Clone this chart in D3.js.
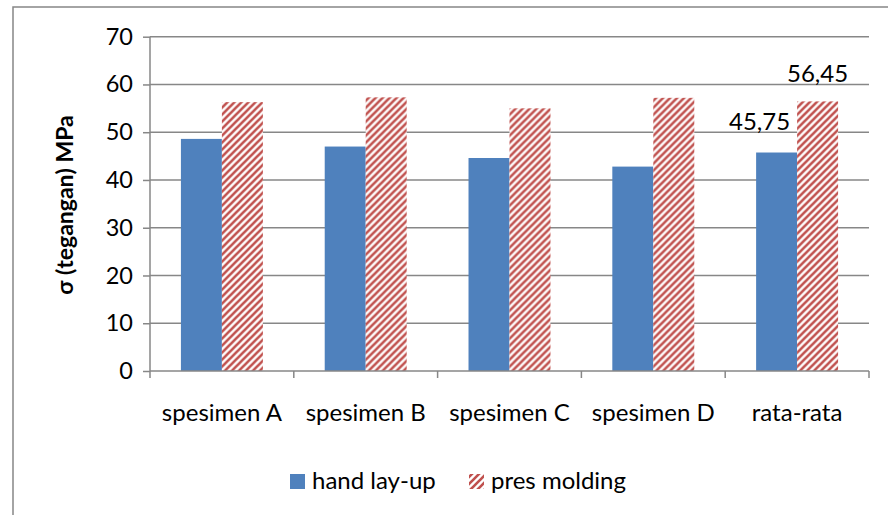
<!DOCTYPE html>
<html>
<head>
<meta charset="utf-8">
<script src="https://cdn.jsdelivr.net/npm/d3@7"></script>
<style>
  body { margin: 0; background: #fff; }
  svg { display: block; font-family: Lato, "Open Sans", sans-serif; }
</style>
</head>
<body>
<div id="chart"></div>
<script>
// data ---------------------------------------------------------------
const categories = ['spesimen A', 'spesimen B', 'spesimen C', 'spesimen D', 'rata-rata'];
const seriesNames = ['hand lay-up', 'pres molding'];
const handLayUp = [48.6, 47.0, 44.6, 42.8, 45.75];
const presMolding = [56.3, 57.3, 55.0, 57.2, 56.45];
const yTicks = [0, 10, 20, 30, 40, 50, 60, 70];
const avgLabels = ['45,75', '56,45'];

// size -----------------------------------------------------------------
const width = 888, height = 515;
const margin = { top: 36.7, right: 19, bottom: 144, left: 150 };
const innerW = width - margin.left - margin.right;
const innerH = height - margin.top - margin.bottom;
const grey = '#878787';
const fs = '24px';

const svg = d3.select('#chart').append('svg')
  .attr('width', width)
  .attr('height', height);

// hatch pattern -------------------------------------------------------------
const defs = svg.append('defs');
const pat = defs.append('pattern')
  .attr('id', 'hatch')
  .attr('patternUnits', 'userSpaceOnUse')
  .attr('width', 7).attr('height', 7);
pat.append('rect').attr('width', 7).attr('height', 7).attr('fill', '#fff');
pat.append('path')
  .attr('d', 'M-1,8 L8,-1 M-2,2 L2,-2 M5,9 L9,5')
  .attr('stroke', '#c0504d')
  .attr('stroke-width', 2.6);

// frame -------------------------------------------------------------------
svg.append('rect')
  .attr('x', 13).attr('y', 7)
  .attr('width', width).attr('height', height)
  .attr('fill', 'none')
  .attr('stroke', grey)
  .attr('stroke-width', 1.5);

const g = svg.append('g')
  .attr('transform', 'translate(' + margin.left + ',' + margin.top + ')');

// scales -------------------------------------------------------------------
const x = d3.scaleBand()
  .domain(categories)
  .range([0, innerW])
  .paddingInner(0.43)
  .paddingOuter(0.215);
const xSub = d3.scaleBand()
  .domain(seriesNames)
  .range([0, x.bandwidth()]);
const y = d3.scaleLinear()
  .domain([0, 70])
  .range([innerH, 0]);

// gridlines -----------------------------------------------------------------
g.append('g')
  .selectAll('line')
  .data(yTicks.filter(d => d > 0))
  .enter()
  .append('line')
  .attr('x1', 0).attr('x2', innerW)
  .attr('y1', d => y(d)).attr('y2', d => y(d))
  .attr('stroke', grey)
  .attr('stroke-width', 1.5);

// bars ---------------------------------------------------------------------
const rows = categories.map((c, i) => ({ cat: c, vals: [handLayUp[i], presMolding[i]] }));
const group = g.selectAll('.grp')
  .data(rows)
  .enter()
  .append('g')
  .attr('class', 'grp')
  .attr('transform', d => 'translate(' + x(d.cat) + ',0)');
group.selectAll('rect')
  .data(d => d.vals.map((v, j) => ({ key: seriesNames[j], v: v })))
  .enter()
  .append('rect')
  .attr('x', d => xSub(d.key))
  .attr('width', xSub.bandwidth())
  .attr('y', d => y(d.v))
  .attr('height', d => innerH - y(d.v))
  .attr('fill', d => d.key === seriesNames[0] ? '#4f81bd' : 'url(#hatch)');

// axes -----------------------------------------------------------------------
const yAxis = g.append('g')
  .call(d3.axisLeft(y).tickValues(yTicks).tickSize(7).tickPadding(10).tickFormat(d3.format('d')));
yAxis.select('.domain').remove();
yAxis.selectAll('line').attr('stroke', grey).attr('stroke-width', 1.5);
yAxis.selectAll('text')
  .attr('font-size', '23.5px')
  .attr('fill', '#000')
  .attr('font-family', 'Lato, sans-serif');
g.append('line')
  .attr('x1', 0).attr('x2', 0)
  .attr('y1', 0).attr('y2', innerH)
  .attr('stroke', grey).attr('stroke-width', 1.5);

// x axis with ticks at the category boundaries
const xAxisG = g.append('g').attr('transform', 'translate(0,' + innerH + ')');
xAxisG.append('line')
  .attr('x1', 0).attr('x2', innerW)
  .attr('stroke', grey).attr('stroke-width', 1.5);
const step = x.step();
xAxisG.selectAll('.tk')
  .data(d3.range(categories.length + 1))
  .enter()
  .append('line')
  .attr('x1', i => i * step).attr('x2', i => i * step)
  .attr('y1', 0).attr('y2', 7)
  .attr('stroke', grey).attr('stroke-width', 1.5);
xAxisG.selectAll('.lbl')
  .data(categories)
  .enter()
  .append('text')
  .attr('x', d => x(d) + x.bandwidth() / 2)
  .attr('y', 50)
  .attr('text-anchor', 'middle')
  .attr('font-size', fs)
  .text(d => d);

// data labels on the average group -----------------------------------------
const last = categories[categories.length - 1];
g.append('text')
  .attr('x', x(last) + xSub(seriesNames[0]) + xSub.bandwidth() / 2 - 17)
  .attr('y', y(handLayUp[4]) - 22)
  .attr('text-anchor', 'middle')
  .attr('font-size', fs)
  .text(avgLabels[0]);
g.append('text')
  .attr('x', x(last) + xSub(seriesNames[1]) + xSub.bandwidth() / 2)
  .attr('y', y(presMolding[4]) - 19)
  .attr('text-anchor', 'middle')
  .attr('font-size', fs)
  .text(avgLabels[1]);

// y title -------------------------------------------------------------------
svg.append('text')
  .attr('transform', 'translate(73,205) rotate(-90)')
  .attr('text-anchor', 'middle')
  .attr('font-size', '23px')
  .attr('font-weight', 'bold')
  .text('σ (tegangan) MPa');

// legend --------------------------------------------------------------------
const legend = svg.append('g').attr('transform', 'translate(290,474)');
const legX = [0, 179];
seriesNames.forEach((s, i) => {
  legend.append('rect')
    .attr('x', legX[i]).attr('y', 0)
    .attr('width', 15).attr('height', 15)
    .attr('fill', i === 0 ? '#4f81bd' : 'url(#hatch)');
  legend.append('text')
    .attr('x', legX[i] + 22).attr('y', 15)
    .attr('font-size', fs)
    .text(s);
});
</script>
</body>
</html>
